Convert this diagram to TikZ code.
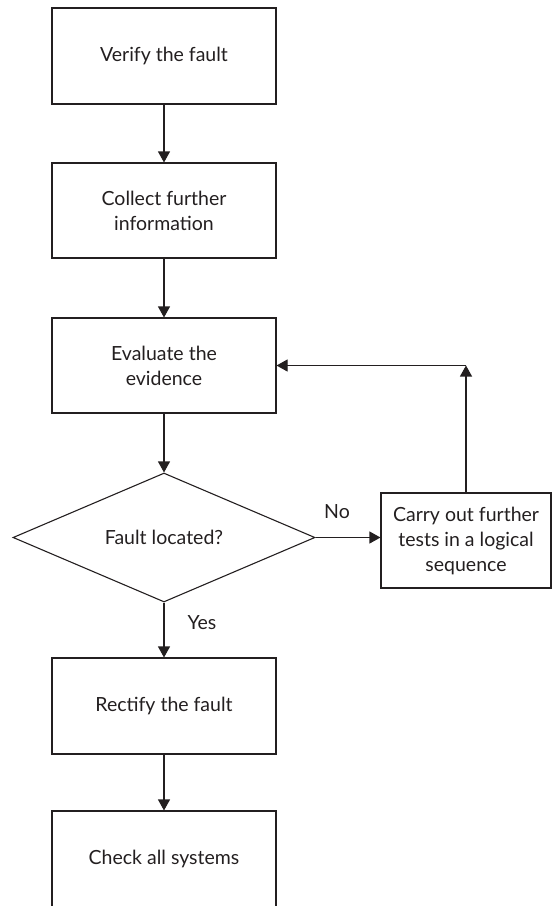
\documentclass[tikz,border=0pt]{standalone}
\usepackage{fontspec}
\setmainfont{Lato}
\usetikzlibrary{shapes.geometric,arrows.meta}
\definecolor{ink}{HTML}{231F20}
\begin{document}
\begin{tikzpicture}[x=1pt,y=-1pt,
  font=\fontsize{19.5}{25}\selectfont,
  every node/.style={text=ink},
  stepbox/.style={draw=ink,line width=1.1pt,rectangle,minimum width=224pt,minimum height=96pt,inner sep=0pt,align=center},
  sidebox/.style={draw=ink,line width=1.1pt,rectangle,minimum width=170pt,minimum height=95pt,inner sep=0pt,align=center},
  decision/.style={draw=ink,line width=1.1pt,diamond,aspect=2.34,minimum width=302pt,minimum height=129pt,inner sep=0pt},
  arr/.style={draw=ink,line width=1.1pt,-{Triangle[length=11pt,width=12pt]}},
  lbl/.style={inner sep=0pt}]
\useasboundingbox (0,0) rectangle (556,906);
\node[stepbox] (v1) at (164,56) {Verify the fault};
\node[stepbox,minimum height=95pt] (v2) at (164,210.5) {Collect further\\information};
\node[stepbox,minimum height=95pt] (v3) at (164,365.5) {Evaluate the\\evidence};
\node[decision] (d) at (164,537.5) {Fault located?};
\node[sidebox] (r) at (466,540.5) {Carry out further\\tests in a logical\\sequence};
\node[stepbox] (v4) at (164,706) {Rectify the fault};
\node[stepbox] (v5) at (164,859) {Check all systems};
\coordinate (c) at (r.north |- v3.east);
\draw[arr] (v1) -- (v2);
\draw[arr] (v2) -- (v3);
\draw[arr] (v3) -- (d);
\draw[arr] (d.east) -- (d.east -| r.west);
\draw[arr] (r.north) -- (c);
\draw[arr] (c) -- (v3.east);
\draw[arr] (d.south) -- (v4);
\draw[arr] (v4) -- (v5);
\node[lbl] (no) at (337,512) {No};
\node[lbl] (yes) at (202,623) {Yes};
\end{tikzpicture}
\end{document}
